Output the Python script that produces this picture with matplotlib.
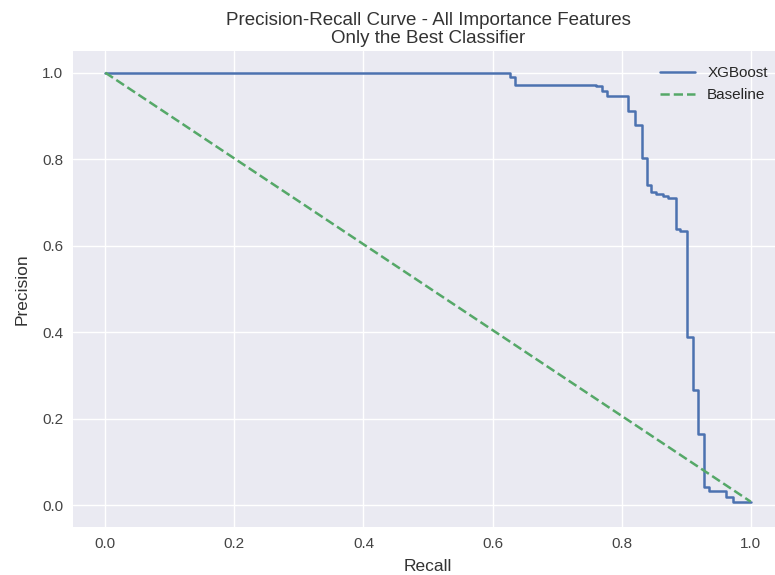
import matplotlib
matplotlib.use("Agg")
import matplotlib.pyplot as plt

# Step points of the XGBoost precision-recall curve (steps-post)
recall = [0.0, 0.627, 0.635, 0.760, 0.769, 0.777, 0.810, 0.820, 0.831, 0.839,
          0.846, 0.854, 0.864, 0.872, 0.884, 0.890, 0.901, 0.910, 0.919, 0.927,
          0.935, 0.962, 0.973, 1.0]
precision = [1.0, 0.989, 0.972, 0.968, 0.957, 0.947, 0.911, 0.878, 0.802, 0.740,
             0.725, 0.720, 0.715, 0.710, 0.638, 0.633, 0.390, 0.267, 0.166, 0.043,
             0.033, 0.020, 0.0085, 0.0085]

baseline_x = [0.0, 1.0]
baseline_y = [1.0, 0.0085]

plt.style.use("seaborn-v0_8")
plt.rcParams["font.family"] = ["Liberation Sans", "DejaVu Sans"]

fig = plt.figure(figsize=(7.75, 5.75), dpi=100)
ax = fig.add_axes([73 / 775, 48 / 575, 710 / 775, 476 / 575])

ax.step(recall, precision, where="post", color="#4C72B0", linewidth=1.8, label="XGBoost")
ax.plot(baseline_x, baseline_y, linestyle="--", color="#55A868", linewidth=1.8, label="Baseline")

ax.set_xlim(-0.05, 1.05)
ax.set_ylim(-0.05, 1.05)
ax.set_xticks([0.0, 0.2, 0.4, 0.6, 0.8, 1.0])
ax.set_yticks([0.0, 0.2, 0.4, 0.6, 0.8, 1.0])
ax.set_xlabel("Recall", fontsize=12.5, color="#333333", labelpad=6)
ax.set_ylabel("Precision", fontsize=12.5, color="#333333", labelpad=9)
ax.set_title("Precision-Recall Curve - All Importance Features\nOnly the Best Classifier",
             fontsize=13.5, color="#333333", pad=6, linespacing=1.05)
ax.tick_params(labelsize=11, labelcolor="#444444")
ax.legend(loc="upper right", fontsize=11, handlelength=2.3, borderaxespad=0.6)

fig.savefig("out.png", dpi=100)
